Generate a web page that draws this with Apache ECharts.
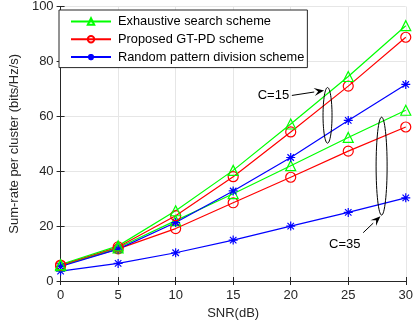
<!DOCTYPE html>
<html>
<head>
<meta charset="utf-8">
<script src="https://cdn.jsdelivr.net/npm/echarts@6/dist/echarts.min.js"></script>
<style>
  html, body { margin: 0; padding: 0; background: #fff; }
  #chart { width: 416px; height: 329px; }
</style>
</head>
<body>
<div id="chart"></div>
<script>
// SNR values (dB)
var snr = [0, 5, 10, 15, 20, 25, 30]
var yTicks = [0, 20, 40, 60, 80, 100]

// C = 15
var exhaustive15 = [6, 12.8, 25.6, 40.3, 57.2, 74.5, 93]
var proposed15 = [5.8, 12.4, 23.8, 38, 54.3, 71, 88.8]
var random15 = [5.3, 11.6, 21.3, 32.8, 45, 58.5, 71.6]

// C = 35
var exhaustive35 = [5.6, 12.1, 22, 31.8, 42, 52.3, 62.2]
var proposed35 = [5.6, 11.7, 19.1, 28.5, 37.8, 47.3, 56.1]
var random35 = [3.6, 6.4, 10.3, 14.9, 20, 25, 30.3]

var names = ['Exhaustive search scheme', 'Proposed GT-PD scheme', 'Random pattern division scheme']

var font = 'Liberation Sans, Arial, sans-serif'
var axisColor = '#262626'
var asterisk = 'path://M0,-5L0,5M-5,0L5,0M-3.6,-3.6L3.6,3.6M-3.6,3.6L3.6,-3.6'

function pairs(ys) {
  return snr.map(function (x, i) { return [x, ys[i]] })
}

function makeSeries(name, ys, color, symbol, size) {
  return {
    name: name,
    type: 'line',
    xAxisIndex: 0,
    yAxisIndex: 0,
    data: pairs(ys),
    symbol: symbol,
    symbolSize: size,
    symbolKeepAspect: true,
    showAllSymbol: true,
    animation: false,
    lineStyle: { color: color, width: 1.2 },
    itemStyle: { color: 'rgba(0,0,0,0)', borderColor: color, borderWidth: 1.2 }
  }
}

var chart = echarts.init(document.getElementById('chart'))

var option = {
  animation: false,
  textStyle: { fontFamily: font },
  grid: { left: 58, right: 7, top: 6, bottom: 48, containLabel: false },
  legend: {
    data: names,
    orient: 'vertical',
    left: 59,
    top: 10,
    backgroundColor: '#fff',
    borderColor: '#262626',
    borderWidth: 1,
    borderRadius: 0,
    padding: [5, 3, 4, 11],
    itemWidth: 40,
    itemHeight: 8,
    itemGap: 4.8,
    selectedMode: false,
    textStyle: { fontFamily: font, fontSize: 12.8, color: '#000', padding: [0, 0, 0, 2] }
  },
  xAxis: [
    {
      type: 'value',
      min: 0,
      max: 30,
      interval: 5,
      name: 'SNR(dB)',
      nameLocation: 'middle',
      nameGap: 24,
      nameTextStyle: { fontSize: 13, color: axisColor, fontFamily: font },
      axisLine: { lineStyle: { color: axisColor, width: 1 } },
      axisTick: { inside: true, length: 4, lineStyle: { color: axisColor } },
      axisLabel: { fontSize: 13, color: axisColor, margin: 8, fontFamily: font },
      splitLine: { show: true, lineStyle: { color: '#e6e6e6', width: 1 } }
    },
    {
      type: 'value',
      position: 'top',
      min: 0,
      max: 30,
      interval: 5,
      axisLine: { show: true, lineStyle: { color: axisColor, width: 1 } },
      axisTick: { inside: true, length: 4, lineStyle: { color: axisColor } },
      axisLabel: { show: false },
      splitLine: { show: false }
    }
  ],
  yAxis: [
    {
      type: 'value',
      min: yTicks[0],
      max: yTicks[yTicks.length - 1],
      interval: 20,
      name: 'Sum-rate per cluster (bits/Hz/s)',
      nameLocation: 'middle',
      nameGap: 36,
      nameTextStyle: { fontSize: 13, color: axisColor, fontFamily: font },
      axisLine: { show: true, lineStyle: { color: axisColor, width: 1 } },
      axisTick: { show: true, inside: true, length: 4, lineStyle: { color: axisColor } },
      axisLabel: { fontSize: 13, color: axisColor, margin: 7, fontFamily: font },
      splitLine: { show: true, lineStyle: { color: '#e6e6e6', width: 1 } }
    },
    {
      type: 'value',
      position: 'right',
      min: yTicks[0],
      max: yTicks[yTicks.length - 1],
      interval: 20,
      axisLine: { show: true, lineStyle: { color: axisColor, width: 1 } },
      axisTick: { show: true, inside: true, length: 4, lineStyle: { color: axisColor } },
      axisLabel: { show: false },
      splitLine: { show: false }
    }
  ],
  series: [
    makeSeries(names[2], random35, '#0000ff', asterisk, 9),
    makeSeries(names[1], proposed35, '#ff0000', 'circle', 10),
    makeSeries(names[0], exhaustive35, '#00ff00', 'triangle', 10),
    makeSeries(names[2], random15, '#0000ff', asterisk, 9),
    makeSeries(names[1], proposed15, '#ff0000', 'circle', 10),
    makeSeries(names[0], exhaustive15, '#00ff00', 'triangle', 10)
  ]
}

chart.setOption(option)

// annotations (data coordinates): ellipse groups and labelled arrows
var groups = [
  { label: 'C=15', x: 23.2, yTop: 70.5, yBottom: 50.2, rx: 4.5, text: [18.5, 67.6], from: [20.1, 67.6], to: [22.9, 69.4] },
  { label: 'C=35', x: 27.9, yTop: 59.7, yBottom: 24, rx: 5.5, text: [24.7, 13.4], from: [26.3, 17.6], to: [27.8, 23.6] }
]

function px(p) { return chart.convertToPixel({ gridIndex: 0 }, p) }

var graphics = []
groups.forEach(function (g) {
  var top = px([g.x, g.yTop])
  var bot = px([g.x, g.yBottom])
  graphics.push({
    type: 'ellipse',
    shape: { cx: top[0], cy: (top[1] + bot[1]) / 2, rx: g.rx, ry: (bot[1] - top[1]) / 2 },
    style: { fill: 'none', stroke: '#000', lineWidth: 1 },
    z: 10
  })
  var a = px(g.from)
  var b = px(g.to)
  var ang = Math.atan2(b[1] - a[1], b[0] - a[0])
  var len = 10, half = 4
  var bx = b[0] - len * Math.cos(ang), by = b[1] - len * Math.sin(ang)
  graphics.push({
    type: 'line',
    shape: { x1: a[0], y1: a[1], x2: bx, y2: by },
    style: { stroke: '#000', lineWidth: 1 },
    z: 10
  })
  graphics.push({
    type: 'polygon',
    shape: { points: [
      [b[0], b[1]],
      [bx + half * Math.sin(ang), by - half * Math.cos(ang)],
      [b[0] - 0.6 * len * Math.cos(ang), b[1] - 0.6 * len * Math.sin(ang)],
      [bx - half * Math.sin(ang), by + half * Math.cos(ang)]
    ] },
    style: { fill: '#000' },
    z: 10
  })
  var t = px(g.text)
  graphics.push({
    type: 'text',
    x: t[0],
    y: t[1],
    style: { text: g.label, fill: '#000', font: '13px ' + font, align: 'center', verticalAlign: 'middle' },
    z: 10
  })
})

chart.setOption({ graphic: graphics })
</script>
</body>
</html>
